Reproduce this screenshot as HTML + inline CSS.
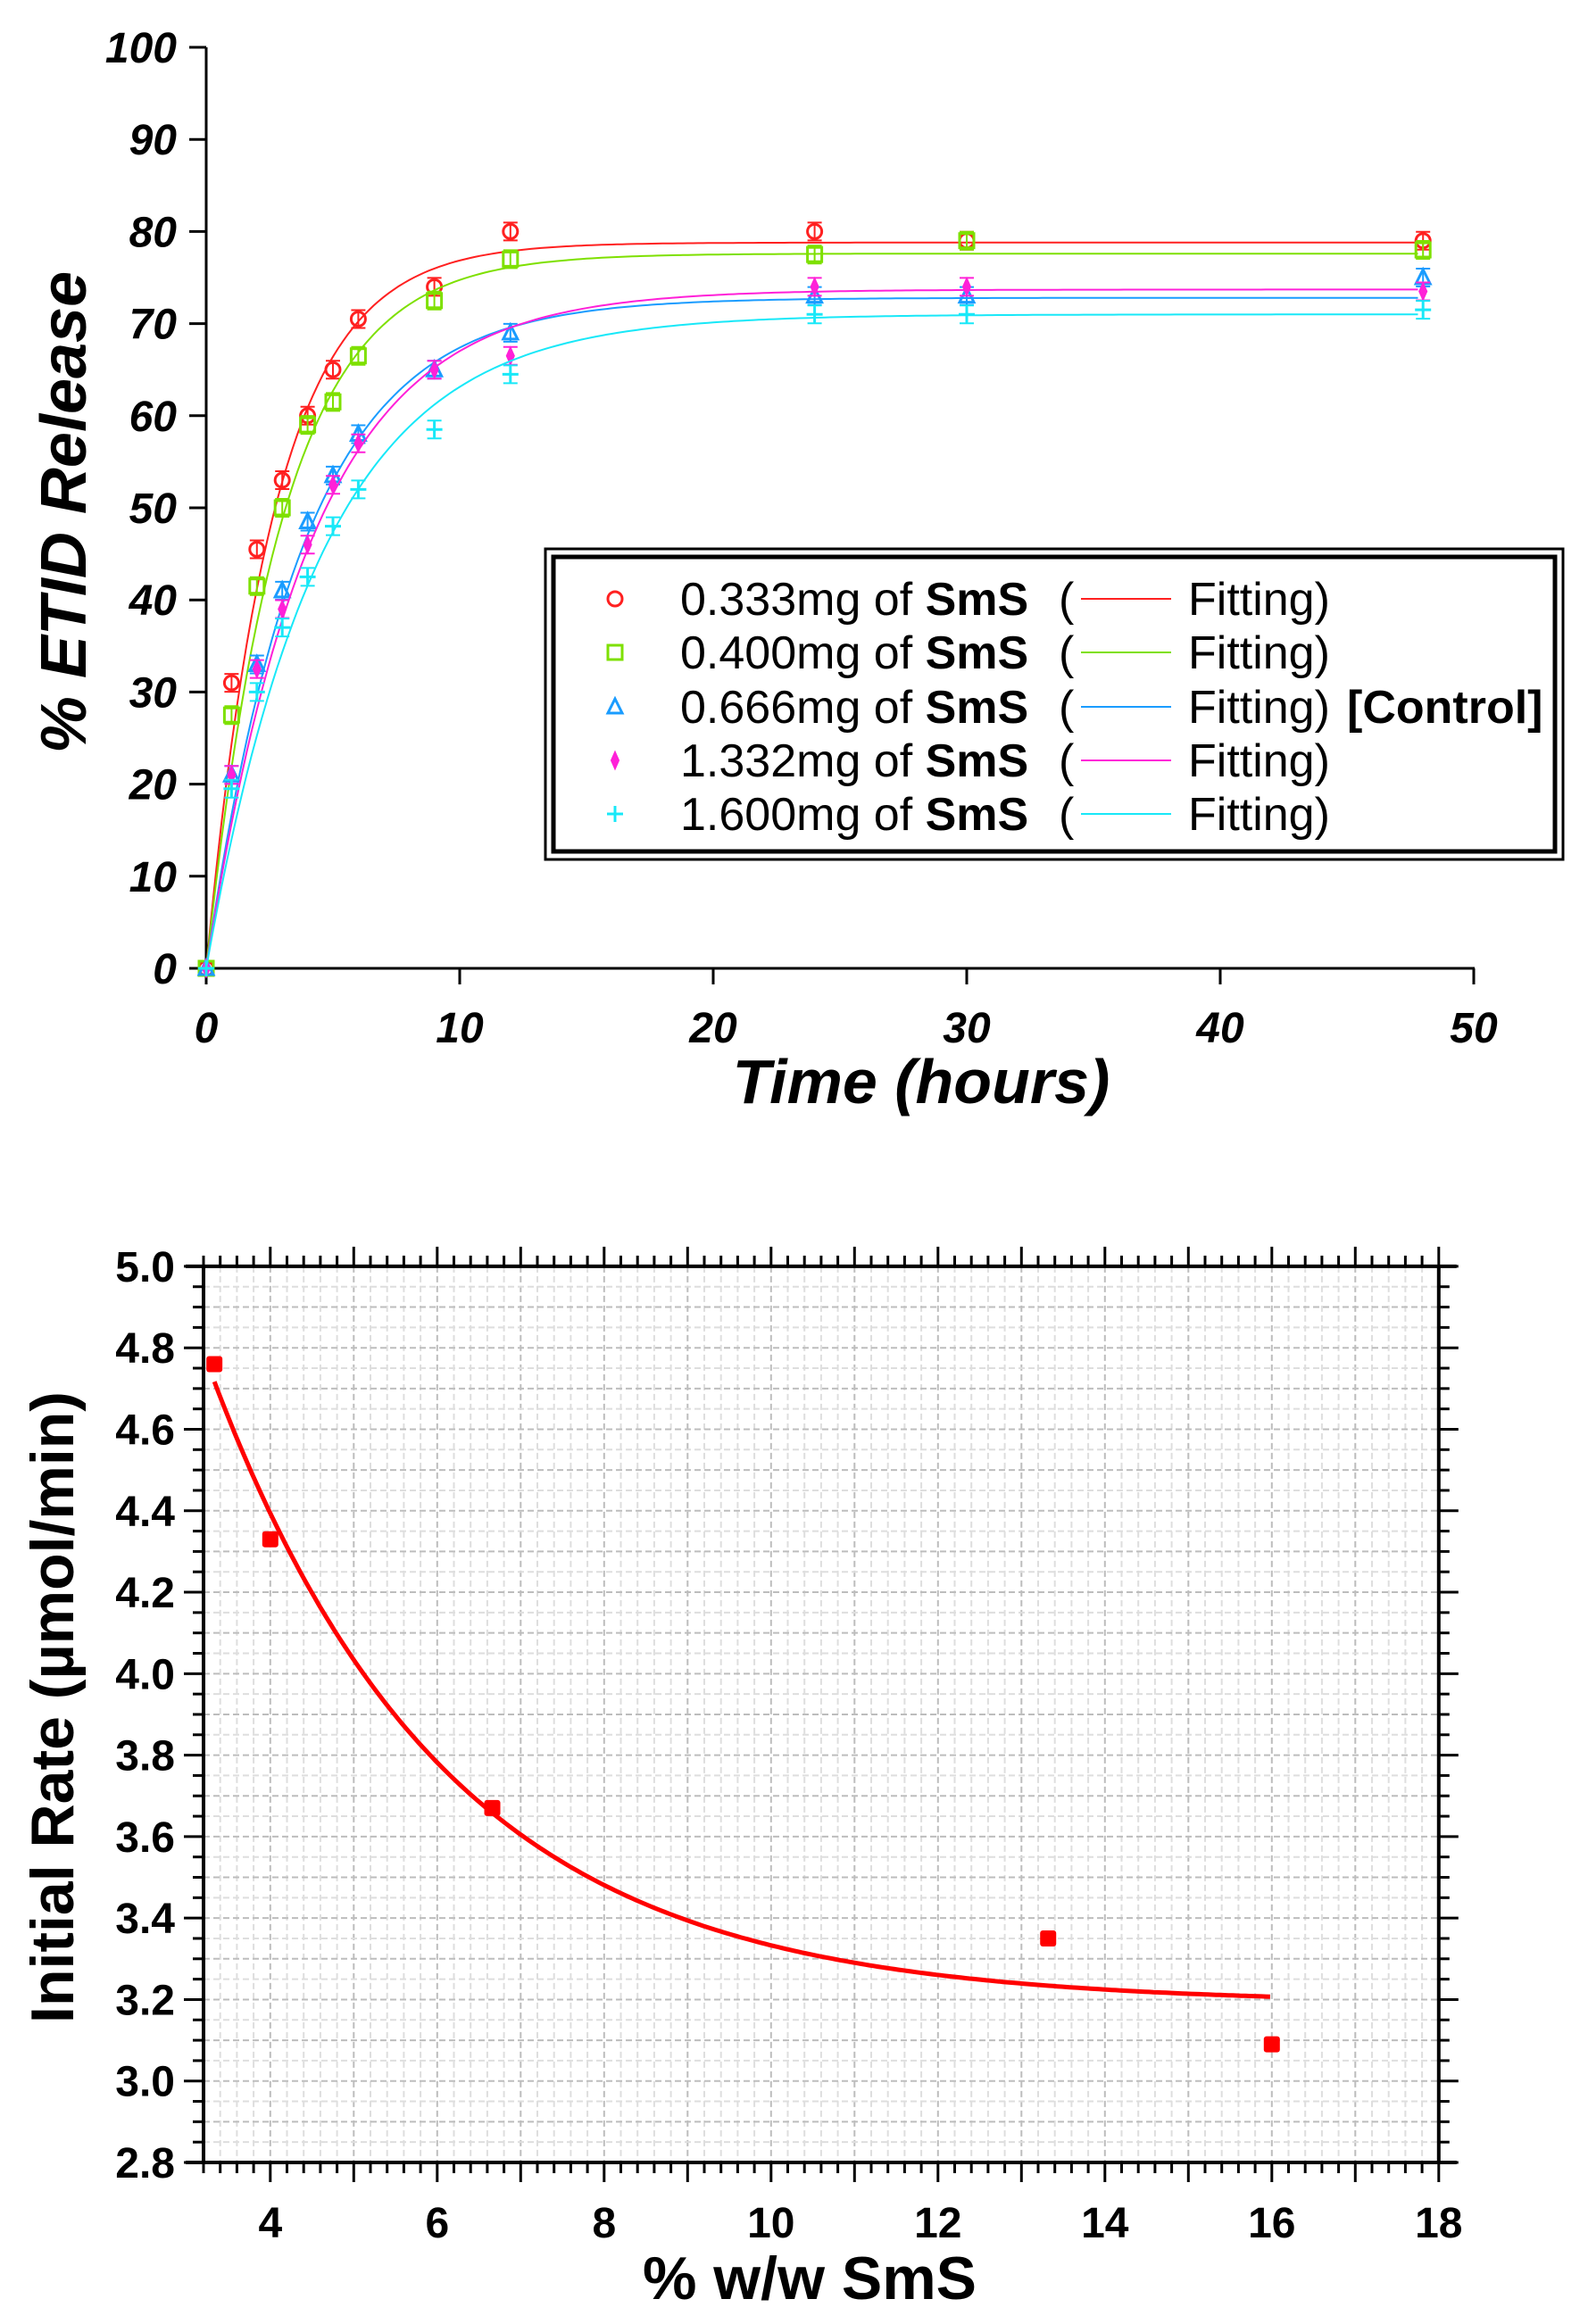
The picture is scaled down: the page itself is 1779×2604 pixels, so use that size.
<!DOCTYPE html>
<html><head><meta charset="utf-8"><style>
html,body{margin:0;padding:0;background:#fff}
svg{display:block}
text{font-family:"Liberation Sans",Arial,sans-serif}
</style></head><body>
<svg id="svg" width="1779" height="2604" viewBox="0 0 1779 2604" xmlns="http://www.w3.org/2000/svg">
<g id="top"></g>
<g id="bot"></g>
</svg>
<script>
const NS='http://www.w3.org/2000/svg';
function mk(p,tag,attrs,txt){const e=document.createElementNS(NS,tag);for(const k in attrs)e.setAttribute(k,attrs[k]);if(txt!==undefined)e.textContent=txt;p.appendChild(e);return e;}

// ===== Top chart data =====
const times=[0,1,2,3,4,5,6,9,12,24,30,48];
const seriesNames=['0.333mg','0.400mg','0.666mg','1.332mg','1.600mg'];
const seriesColors=['#ff2020','#7ee000','#1a9cff','#ff20d8','#18e8f8'];
const red=[0,31,45.5,53,60,65,70.5,74,80,80,79,79];
const green=[0,27.5,41.5,50,59,61.5,66.5,72.5,77,77.5,79,78];
const blue=[0,21,33,41,48.5,53.5,58,65,69,73,73,75];
const magenta=[0,21,32.5,39,46,52.5,57,65,66.5,74,74,73.5];
const cyan=[0,19.5,30,37,42.5,48,52,58.5,64.5,71,71,71.5];
const fitMax=[78.8,77.6,72.8,73.7,71.0];
const fitRate=[0.37,0.33,0.26,0.24,0.22];
const topYTicks=[0,10,20,30,40,50,60,70,80,90,100];
const topXTicks=[0,10,20,30,40,50];

const T=document.getElementById('top');
const tx=v=>231+v*28.4, ty=v=>1085-v*10.32;
let a=mk(T,'line',{x1:231,y1:53,x2:231,y2:1086,stroke:'#000','stroke-width':3});


a=mk(T,'line',{x1:229,y1:1085,x2:1652,y2:1085,stroke:'#000','stroke-width':3});


topYTicks.forEach(v=>{
  mk(T,'line',{x1:212,y1:ty(v),x2:231,y2:ty(v),stroke:'#000','stroke-width':3});
  const t=mk(T,'text',{x:198,y:ty(v)+17,'text-anchor':'end','font-size':48,'font-weight':'bold','font-style':'italic'},v);
  
  
});
topXTicks.forEach(v=>{
  mk(T,'line',{x1:tx(v),y1:1085,x2:tx(v),y2:1103,stroke:'#000','stroke-width':3});
  const t=mk(T,'text',{x:tx(v),y:1168,'text-anchor':'middle','font-size':48,'font-weight':'bold','font-style':'italic'},v);
  
  
});
a=mk(T,'text',{x:1032,y:1236,'text-anchor':'middle','font-size':70,'font-weight':'bold','font-style':'italic'},'Time (hours)');


a=mk(T,'text',{x:0,y:0,'text-anchor':'middle','font-size':72,'font-weight':'bold','font-style':'italic',transform:'translate(96,574) rotate(-90)'},'%  ETID Release');



function marker(p,kind,x,y,c){
  if(kind===0)return mk(p,'circle',{cx:x,cy:y,r:8,fill:'none',stroke:c,'stroke-width':3});
  if(kind===1)return mk(p,'rect',{x:x-8,y:y-8,width:16,height:16,fill:'none',stroke:c,'stroke-width':3});
  if(kind===2)return mk(p,'path',{d:`M${x},${y-9}L${x+8},${y+7}L${x-8},${y+7}Z`,fill:'none',stroke:c,'stroke-width':3});
  if(kind===3)return mk(p,'path',{d:`M${x},${y-9}L${x+4},${y}L${x},${y+9}L${x-4},${y}Z`,fill:c,stroke:c,'stroke-width':2});
  return mk(p,'path',{d:`M${x-9},${y}H${x+9}M${x},${y-9}V${y+9}`,fill:'none',stroke:c,'stroke-width':3});
}
const allSeries=[red,green,blue,magenta,cyan];
allSeries.forEach((s,i)=>{
  const c=seriesColors[i];
  let d='';
  for(let t=0;t<=48;t+=0.2){const v=fitMax[i]*(1-Math.exp(-fitRate[i]*t));d+=(t===0?'M':'L')+tx(t).toFixed(1)+','+ty(v).toFixed(1);}
  const f=mk(T,'path',{d:d,fill:'none',stroke:c,'stroke-width':2});
  
  
  s.forEach((v,j)=>{
    const x=tx(times[j]),y=ty(v);
    if(j>0)mk(T,'path',{d:`M${x-8},${y-10}H${x+8}M${x-8},${y+10}H${x+8}M${x},${y-10}V${y+10}`,stroke:c,'stroke-width':2,fill:'none'});
    const m=marker(T,i,x,y,c);
    
    
  });
});
const L=mk(T,'g',{});


mk(L,'rect',{x:611,y:615,width:1140,height:348,fill:'#fff',stroke:'#000','stroke-width':3});
mk(L,'rect',{x:620,y:624,width:1122,height:330,fill:'none',stroke:'#000','stroke-width':5});
const rows=[671,731,792,852,912];
seriesNames.forEach((n,i)=>{
  const y=rows[i];
  const e=mk(L,'g',{});
  
  
  marker(e,i,689,y,seriesColors[i]);
  const t=mk(e,'text',{x:762,y:y+18,'font-size':52});
  mk(t,'tspan',{},n+' of ');
  mk(t,'tspan',{'font-weight':'bold'},'SmS');
  mk(e,'text',{x:1186,y:y+18,'font-size':52},'(');
  mk(e,'line',{x1:1211,y1:y,x2:1312,y2:y,stroke:seriesColors[i],'stroke-width':2});
  mk(e,'text',{x:1331,y:y+18,'font-size':52},'Fitting)');
  if(i===2)mk(e,'text',{x:1509,y:y+18,'font-size':52,'font-weight':'bold'},'[Control]');
});

// ===== Bottom chart data =====
const wwX=[3.33,4.0,6.66,13.32,16.0];
const rateY=[4.76,4.33,3.67,3.35,3.09];
const fitBase=[3.19], fitAmp=[4.98], fitK=[0.355];
const botXTicks=[4,6,8,10,12,14,16,18];
const botYTicks=[2.8,3.0,3.2,3.4,3.6,3.8,4.0,4.2,4.4,4.6,4.8,5.0];

const B=document.getElementById('bot');
const bx=v=>228+(v-3.2)*93.5, by=v=>2423-(v-2.8)*456.4;
const L0=bx(3.2),R0=bx(18),T0=by(5.0),B0=by(2.8);
for(let v=3.2;v<=18.001;v+=0.2){
  const maj=Math.abs(v-Math.round(v))<0.01;
  mk(B,'line',{x1:bx(v),y1:T0,x2:bx(v),y2:B0,stroke:maj?'#bdbdbd':'#dedede','stroke-width':2,'stroke-dasharray':'7,4'});
}
for(let v=2.8;v<=5.001;v+=0.05){
  const maj=Math.abs(v*10-Math.round(v*10))<0.01;
  mk(B,'line',{x1:L0,y1:by(v),x2:R0,y2:by(v),stroke:maj?'#bdbdbd':'#dedede','stroke-width':2,'stroke-dasharray':'7,4'});
}
a=mk(B,'line',{x1:L0,y1:T0,x2:L0,y2:B0,stroke:'#000','stroke-width':4});


a=mk(B,'line',{x1:L0-20,y1:B0,x2:R0+20,y2:B0,stroke:'#000','stroke-width':4});


mk(B,'line',{x1:L0-20,y1:T0,x2:R0+20,y2:T0,stroke:'#000','stroke-width':4});
mk(B,'line',{x1:R0,y1:T0,x2:R0,y2:B0,stroke:'#000','stroke-width':4});
for(let v=3.2;v<=18.001;v+=0.2){
  const maj=Math.abs(v-Math.round(v))<0.01, len=maj?22:12;
  mk(B,'line',{x1:bx(v),y1:T0,x2:bx(v),y2:T0-len,stroke:'#000','stroke-width':3});
  mk(B,'line',{x1:bx(v),y1:B0,x2:bx(v),y2:B0+len,stroke:'#000','stroke-width':3});
}
for(let v=2.8;v<=5.001;v+=0.05){
  const maj=Math.abs(v*5-Math.round(v*5))<0.01, len=maj?22:12;
  mk(B,'line',{x1:L0-len,y1:by(v),x2:L0,y2:by(v),stroke:'#000','stroke-width':3});
  mk(B,'line',{x1:R0,y1:by(v),x2:R0+len,y2:by(v),stroke:'#000','stroke-width':3});
}
botXTicks.forEach(v=>{
  const t=mk(B,'text',{x:bx(v),y:2507,'text-anchor':'middle','font-size':48,'font-weight':'bold'},v);
  
  
});
botYTicks.forEach(v=>{
  const t=mk(B,'text',{x:196,y:by(v)+17,'text-anchor':'end','font-size':48,'font-weight':'bold'},v.toFixed(1));
  
  
});
a=mk(B,'text',{x:907,y:2576,'text-anchor':'middle','font-size':68,'font-weight':'bold'},'% w/w SmS');


a=mk(B,'text',{x:0,y:0,'text-anchor':'middle','font-size':68,'font-weight':'bold',transform:'translate(82,1913) rotate(-90)'},'Initial Rate (µmol/min)');


let d='';
for(let v=3.33;v<=16.0001;v+=0.05){const y=fitBase[0]+fitAmp[0]*Math.exp(-fitK[0]*v);d+=(d?'L':'M')+bx(v).toFixed(1)+','+by(y).toFixed(1);}
a=mk(B,'path',{d:d,fill:'none',stroke:'#ff0000','stroke-width':5});


wwX.forEach((x,i)=>{
  const p=mk(B,'rect',{x:bx(x)-9,y:by(rateY[i])-9,width:18,height:18,rx:3,fill:'#ff0000'});
  
  
});
</script>
</body></html>
